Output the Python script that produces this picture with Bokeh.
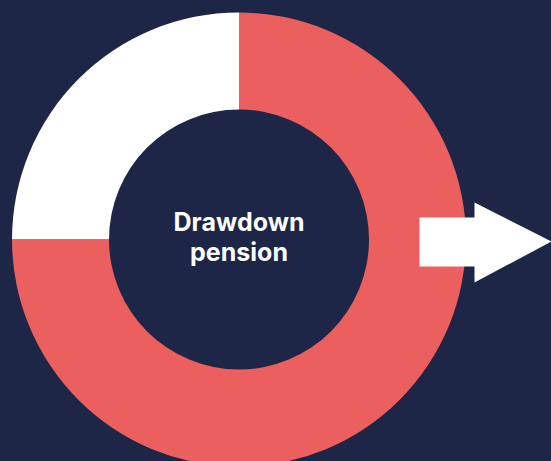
import math
from bokeh.plotting import figure
from bokeh.models import ColumnDataSource, Range1d
from bokeh.core.properties import value
from bokeh.embed import file_html
from bokeh.resources import INLINE

# Data
categories = ["Other", "Drawdown pension"]
shares = [25, 75]
colors = ["#ffffff", "#ec5f5f"]
center_label = ["Drawdown", "pension"]

BG = "#1d2646"

total = sum(shares)
starts, ends = [], []
acc = math.pi / 2
for s in shares:
    starts.append(acc)
    acc += 2 * math.pi * s / total
    ends.append(acc)

src = ColumnDataSource(dict(cat=categories, share=shares, color=colors,
                            start=starts, end=ends))

W, H = 551, 461
p = figure(width=W, height=H, output_backend="svg", toolbar_location=None,
           x_range=Range1d(0, W), y_range=Range1d(0, H),
           background_fill_color=BG, border_fill_color=BG,
           min_border=0)
p.axis.visible = False
p.grid.visible = False
p.outline_line_color = None

cx, cy = 238.5, 222
p.annular_wedge(x=cx, y=cy, inner_radius=130, outer_radius=227,
                start_angle="start", end_angle="end", color="color",
                line_color=None, source=src)

# arrow
ax = [419, 474, 474, 551, 474, 474, 419]
ay = [244, 244, 259, 220, 179, 195, 195]
p.patch(ax, ay, fill_color="#ffffff", line_color=None)

p.text(x=[cx, cx], y=[240, 209.5], text=center_label,
       text_font=value("Inter"), text_font_style="bold",
       text_font_size="25px", text_color="#ffffff",
       text_align="center", text_baseline="alphabetic")

html = file_html(p, INLINE)
html = html.replace("<head>", "<head><style>html,body{background:%s;}</style>" % BG, 1)
open("out.html", "w").write(html)
